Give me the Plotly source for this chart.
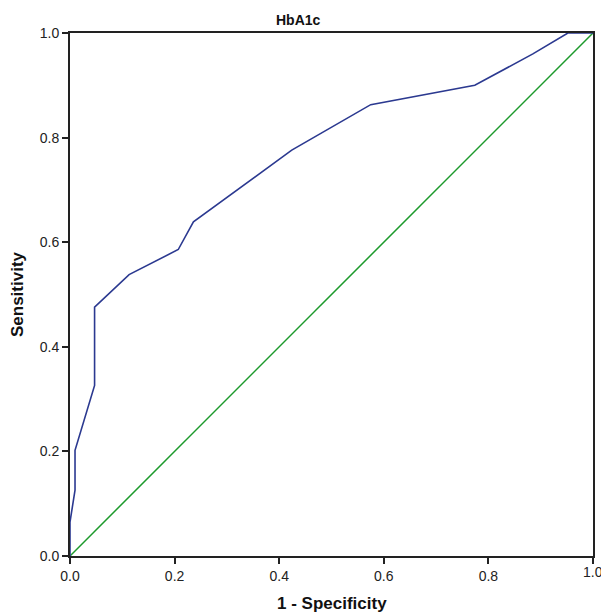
import plotly.graph_objects as go

fpr = [0.0, 0.0, 0.0096, 0.0096, 0.047, 0.047, 0.113, 0.207, 0.236, 0.424, 0.575, 0.774, 0.885, 0.952, 1.0]
tpr = [0.0, 0.065, 0.126, 0.202, 0.326, 0.476, 0.538, 0.586, 0.639, 0.776, 0.863, 0.900, 0.960, 1.0, 1.0]
ref_x = [0.0, 1.0]
ref_y = [0.0, 1.0]
ticks = [0.0, 0.2, 0.4, 0.6, 0.8, 1.0]
tick_text = ["0.0", "0.2", "0.4", "0.6", "0.8", "1.0"]

fig = go.Figure()
fig.add_trace(go.Scatter(x=ref_x, y=ref_y, mode="lines",
                         line=dict(color="#1d9a2c", width=1.5), showlegend=False))
fig.add_trace(go.Scatter(x=fpr, y=tpr, mode="lines",
                         line=dict(color="#2b3990", width=1.6), showlegend=False))

FONT = "Liberation Sans, Arial"
TICKFONT = dict(family=FONT, size=14, color="#222")
axis_common = dict(range=[0, 1], tickvals=ticks, ticktext=tick_text, showgrid=False,
                   zeroline=False, showline=True, linecolor="#222", linewidth=2,
                   ticks="outside", ticklen=6, tickwidth=2, tickcolor="#222",
                   mirror=True, automargin=False, tickfont=TICKFONT)

fig.update_layout(
    autosize=False,
    width=601, height=613,
    margin=dict(l=70, r=8, t=33, b=57, pad=0),
    paper_bgcolor="white", plot_bgcolor="white",
    xaxis=dict(**axis_common),
    yaxis=dict(**axis_common,
               title=dict(text="<b>Sensitivity</b>", standoff=12,
                          font=dict(family=FONT, size=17, color="#111"))),
    annotations=[
        dict(text="<b>HbA1c</b>", x=0.436, y=1, xref="paper", yref="paper",
             xanchor="center", yanchor="bottom", yshift=3, showarrow=False,
             font=dict(family=FONT, size=14, color="#111")),
        dict(text="<b>1 - Specificity</b>", x=0.5, y=0, xref="paper", yref="paper",
             xanchor="center", yanchor="top", yshift=-36, showarrow=False,
             font=dict(family=FONT, size=17, color="#111")),
        dict(text=tick_text[-1], x=ticks[-1], y=0, xref="x", yref="paper",
             xanchor="center", yanchor="top", yshift=-6, showarrow=False,
             font=TICKFONT),
    ],
)

fig.write_html(
    "out.html",
    config={"displayModeBar": False, "responsive": False},
    post_script="document.body.style.margin='0';document.body.style.overflow='hidden';",
)
